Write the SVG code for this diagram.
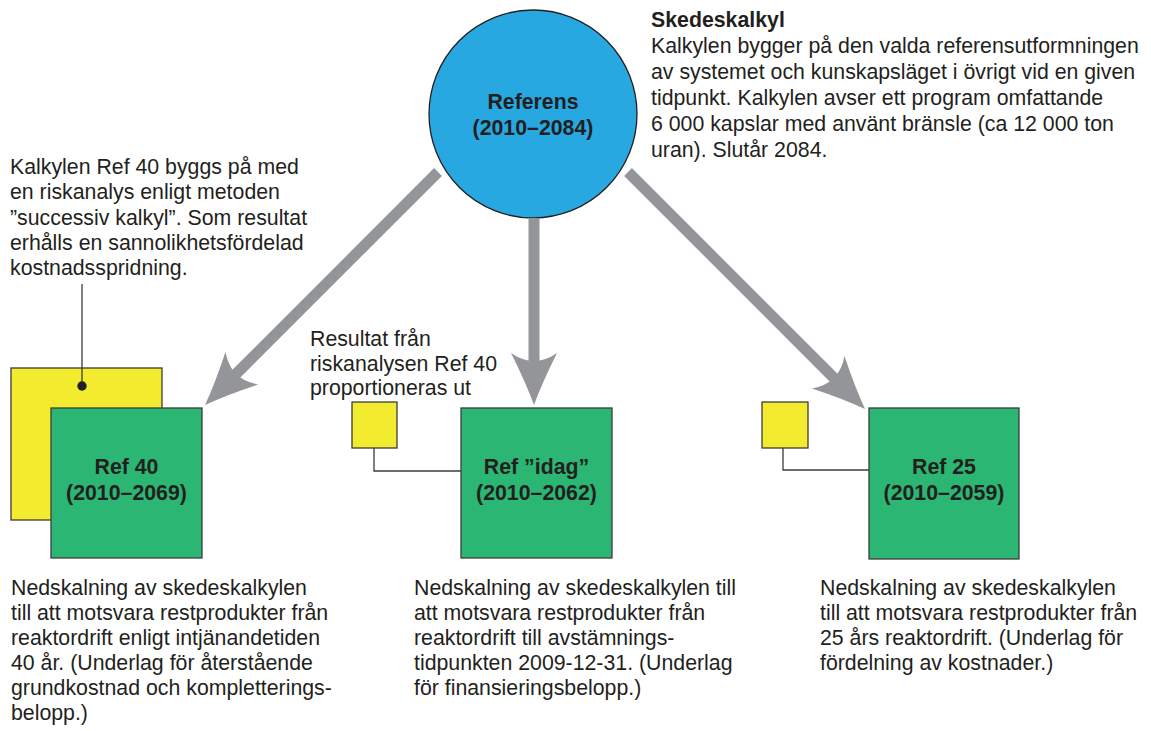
<svg xmlns="http://www.w3.org/2000/svg" xmlns:xlink="http://www.w3.org/1999/xlink" width="1151" height="731" viewBox="0 0 1151 731">
<style>
  text { font-family: "Liberation Sans", Arial, sans-serif; font-size: 21.3px; fill: #231F20; }
  .b { font-weight: bold; }
  .c { text-anchor: middle; }
  .green { fill: #2BB673; stroke: #3C3C3C; stroke-width: 1.3; }
  .yellow { fill: #F3EC2E; stroke: #3C3C3C; stroke-width: 1.3; }
  .shaft { stroke: #939598; stroke-width: 11; fill: none; }
  .head { fill: #939598; }
  .conn { stroke: #3C3C3C; stroke-width: 1.3; fill: none; }
</style>
<defs>
  <path id="ah" d="M0,0 Q-22,-8 -52,-23 Q-36,0 -52,23 Q-22,8 0,0 Z"/>
</defs>
<rect width="1151" height="731" fill="#FFFFFF"/>

<g id="referens">
  <circle cx="533" cy="114" r="104" fill="#27A8E0" stroke="#231F20" stroke-width="1.3"/>
  <text class="b c" x="533" y="109">Referens</text>
  <text class="b c" x="533" y="135">(2010–2084)</text>
</g>

<g id="skedeskalkyl-note">
  <text class="b" x="651" y="27">Skedeskalkyl</text>
  <text x="651" y="53">Kalkylen bygger på den valda referensutformningen</text>
  <text x="651" y="79">av systemet och kunskapsläget i övrigt vid en given</text>
  <text x="651" y="105">tidpunkt. Kalkylen avser ett program omfattande</text>
  <text x="651" y="131">6 000 kapslar med använt bränsle (ca 12 000 ton</text>
  <text x="651" y="157">uran). Slutår 2084.</text>
</g>

<g id="ref40-note">
  <text x="10" y="174">Kalkylen Ref 40 byggs på med</text>
  <text x="10" y="199">en riskanalys enligt metoden</text>
  <text x="10" y="225">”successiv kalkyl”. Som resultat</text>
  <text x="10" y="250">erhålls en sannolikhetsfördelad</text>
  <text x="10" y="275">kostnadsspridning.</text>
</g>

<g id="ref40">
  <rect class="yellow" x="11" y="368" width="151" height="152"/>
  <rect class="green" x="51" y="408" width="151" height="150"/>
  <text class="b c" x="126.5" y="474">Ref 40</text>
  <text class="b c" x="126.5" y="500">(2010–2069)</text>
</g>

<g id="ref40-desc">
  <text x="11" y="595">Nedskalning av skedeskalkylen</text>
  <text x="11" y="620">till att motsvara restprodukter från</text>
  <text x="11" y="645">reaktordrift enligt intjänandetiden</text>
  <text x="11" y="670">40 år. (Underlag för återstående</text>
  <text x="11" y="695">grundkostnad och kompletterings-</text>
  <text x="11" y="720">belopp.)</text>
</g>

<g id="idag-note">
  <text x="310" y="346">Resultat från</text>
  <text x="310" y="371">riskanalysen Ref 40</text>
  <text x="310" y="395">proportioneras ut</text>
</g>

<g id="idag-yellow">
  <rect class="yellow" x="352" y="402" width="45" height="46"/>
</g>

<g id="ref-idag">
  <rect class="green" x="461" y="408" width="151" height="150"/>
  <text class="b c" x="536.5" y="474">Ref ”idag”</text>
  <text class="b c" x="536.5" y="500">(2010–2062)</text>
</g>

<g id="idag-desc">
  <text x="414" y="595">Nedskalning av skedeskalkylen till</text>
  <text x="414" y="620">att motsvara restprodukter från</text>
  <text x="414" y="645">reaktordrift till avstämnings-</text>
  <text x="414" y="670">tidpunkten 2009-12-31. (Underlag</text>
  <text x="414" y="695">för finansieringsbelopp.)</text>
</g>

<g id="ref25-yellow">
  <rect class="yellow" x="762" y="402" width="46" height="46"/>
</g>

<g id="ref25">
  <rect class="green" x="869" y="408" width="150" height="151"/>
  <text class="b c" x="944" y="474">Ref 25</text>
  <text class="b c" x="944" y="500">(2010–2059)</text>
</g>

<g id="ref25-desc">
  <text x="820" y="595">Nedskalning av skedeskalkylen</text>
  <text x="820" y="620">till att motsvara restprodukter från</text>
  <text x="820" y="645">25 års reaktordrift. (Underlag för</text>
  <text x="820" y="670">fördelning av kostnader.)</text>
</g>

<g id="connectors">
  <line class="shaft" x1="438" y1="172" x2="228" y2="382"/>
  <use xlink:href="#ah" href="#ah" class="head" transform="translate(205,405) rotate(135)"/>
  <line class="shaft" x1="534" y1="218" x2="534" y2="372"/>
  <use xlink:href="#ah" href="#ah" class="head" transform="translate(534,405) rotate(90)"/>
  <line class="shaft" x1="628" y1="172" x2="841" y2="385"/>
  <use xlink:href="#ah" href="#ah" class="head" transform="translate(865,409) rotate(45)"/>
  <polyline class="conn" points="82,284 82,386"/>
  <circle cx="82" cy="386" r="4.7" fill="#231F20"/>
  <polyline class="conn" points="374,448 374,471 461,471"/>
  <polyline class="conn" points="783,448 783,470 869,470"/>
</g>
</svg>
